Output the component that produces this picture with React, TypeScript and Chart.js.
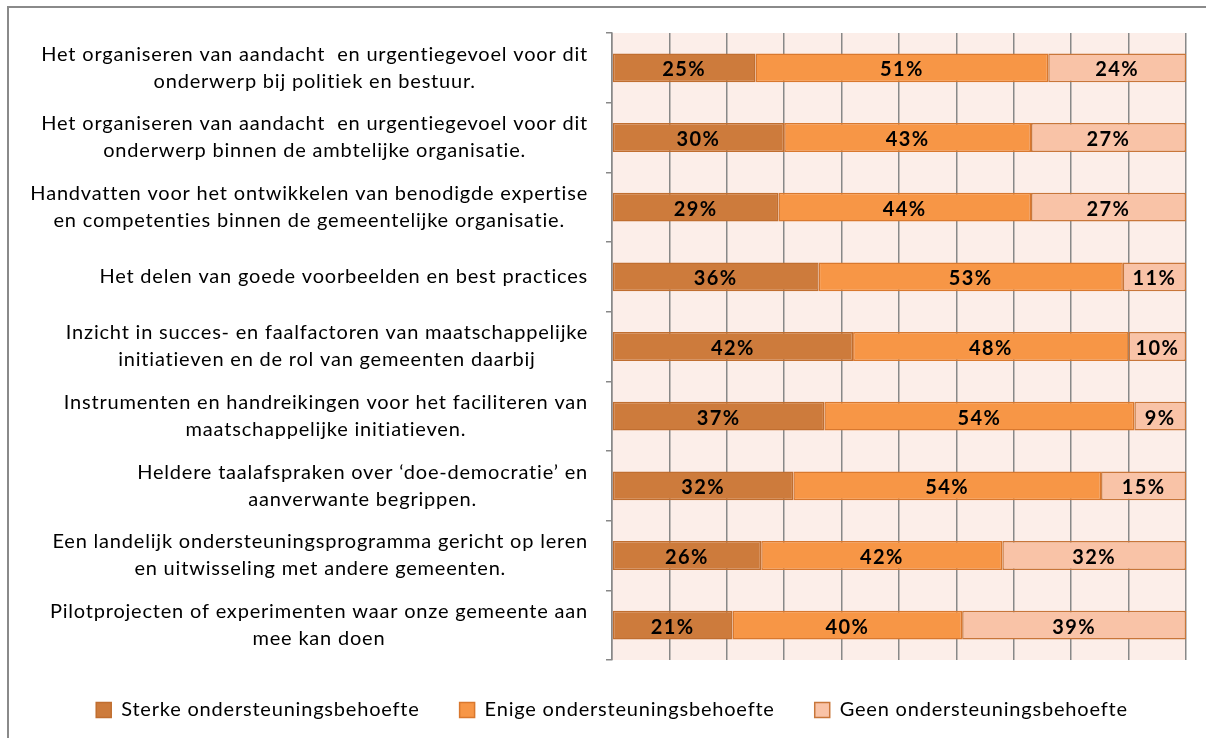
import React, { useEffect, useRef } from "react";
import { Chart, registerables } from "chart.js";

Chart.register(...registerables);

const categories: string[][] = [
  ["Het organiseren van aandacht  en urgentiegevoel voor dit", "onderwerp bij politiek en bestuur."],
  ["Het organiseren van aandacht  en urgentiegevoel voor dit", "onderwerp binnen de ambtelijke organisatie."],
  ["Handvatten voor het ontwikkelen van benodigde expertise", "en competenties binnen de gemeentelijke organisatie."],
  ["Het delen van goede voorbeelden en best practices"],
  ["Inzicht in succes- en faalfactoren van maatschappelijke", "initiatieven en de rol van gemeenten daarbij"],
  ["Instrumenten en handreikingen voor het faciliteren van", "maatschappelijke initiatieven."],
  ["Heldere taalafspraken over \u2018doe-democratie\u2019 en", "aanverwante begrippen."],
  ["Een landelijk ondersteuningsprogramma gericht op leren", "en uitwisseling met andere gemeenten."],
  ["Pilotprojecten of experimenten waar onze gemeente aan", "mee kan doen"],
];

const seriesNames = [
  "Sterke ondersteuningsbehoefte",
  "Enige ondersteuningsbehoefte",
  "Geen ondersteuningsbehoefte",
];

const sterke = [25, 30, 29, 36, 42, 37, 31.6, 26, 21];
const enige = [51, 43, 44, 53, 48, 54, 53.6, 42, 40];
const geen = [24, 27, 27, 11, 10, 9, 14.8, 32, 39];

const fills = ["#CD7B3C", "#F79646", "#F9C3A7"];
const strokes = ["#C06E30", "#D9782E", "#C8763A"];

const FONT = "Lato, 'Open Sans', sans-serif";
const SPACING = "0.8px";

const framePlugin = {
  id: "framePlugin",
  beforeUpdate(chart: any) {
    chart.ctx.letterSpacing = SPACING;
  },
  beforeDraw(chart: any) {
    const { ctx, chartArea } = chart;
    ctx.letterSpacing = SPACING;
    ctx.save();
    ctx.fillStyle = "#FFFFFF";
    ctx.fillRect(0, 0, chart.width, chart.height);
    ctx.strokeStyle = "#8A8A8A";
    ctx.lineWidth = 2;
    ctx.strokeRect(8, 7, 1400, 1000);
    ctx.fillStyle = "#FCEEE9";
    ctx.fillRect(chartArea.left, chartArea.top, chartArea.right - chartArea.left, chartArea.bottom - chartArea.top);
    ctx.restore();
  },
};

const labelPlugin = {
  id: "labelPlugin",
  afterDatasetsDraw(chart: any) {
    const { ctx } = chart;
    ctx.save();
    ctx.font = `bold 20px ${FONT}`;
    ctx.letterSpacing = "1.4px";
    ctx.fillStyle = "#000";
    ctx.textAlign = "center";
    ctx.textBaseline = "middle";
    chart.data.datasets.forEach((ds: any, di: number) => {
      const meta = chart.getDatasetMeta(di);
      meta.data.forEach((bar: any, i: number) => {
        const v = ds.data[i];
        const cx = (bar.x + bar.base) / 2;
        ctx.fillText(Math.round(v) + "%", cx, bar.y + 2);
      });
    });
    ctx.restore();
  },
  afterDraw(chart: any) {
    const { ctx, chartArea } = chart;
    const yScale = chart.scales.y;
    ctx.save();
    ctx.font = `20px ${FONT}`;
    ctx.letterSpacing = SPACING;
    ctx.fillStyle = "#000";
    ctx.textAlign = "center";
    ctx.textBaseline = "middle";
    const right = chartArea.left - 24;
    const lh = 27;
    categories.forEach((lines, i) => {
      const cy = yScale.getPixelForValue(i);
      const widest = Math.max(...lines.map((l) => ctx.measureText(l).width));
      const cx = right - widest / 2;
      const y0 = cy - ((lines.length - 1) * lh) / 2;
      lines.forEach((l, k) => ctx.fillText(l, cx, y0 + k * lh));
    });
    ctx.restore();
  },
};

export default function App() {
  const ref = useRef<HTMLCanvasElement | null>(null);
  useEffect(() => {
    if (!ref.current) return;
    const values = [sterke, enige, geen];
    const chart = new Chart(ref.current, {
      type: "bar",
      data: {
        labels: categories.map((c) => c.join(" ")),
        datasets: values.map((d, i) => ({
          label: seriesNames[i],
          data: d,
          backgroundColor: fills[i],
          borderColor: strokes[i],
          borderWidth: 1.5,
          borderSkipped: false,
          barPercentage: 0.415,
          categoryPercentage: 1,
        })),
      },
      options: {
        indexAxis: "y",
        responsive: false,
        animation: false,
        layout: { padding: { left: 38, right: 20, top: 33, bottom: 8 } },
        scales: {
          x: {
            type: "linear",
            stacked: true,
            min: 0,
            max: 100,
            ticks: { display: false, stepSize: 10 },
            grid: { color: "#888888", lineWidth: 1.5, drawTicks: false },
            border: { display: false },
          },
          y: {
            type: "category",
            stacked: true,
            ticks: { display: false },
            grid: { drawOnChartArea: false, drawTicks: true, tickLength: 6, color: "#888888", lineWidth: 1.5, offset: true },
            border: { display: true, color: "#888888", width: 1.5 },
            afterFit(scale: any) {
              scale.width = 574;
            },
          },
        },
        plugins: {
          legend: {
            position: "bottom",
            labels: {
              font: { family: FONT, size: 20 },
              color: "#000",
              boxWidth: 15,
              boxHeight: 15,
              padding: 40,
            },
          },
          tooltip: { enabled: false },
        },
      },
      plugins: [framePlugin, labelPlugin],
    });
    return () => chart.destroy();
  }, []);
  return (
    <div style={{ position: "absolute", left: 0, top: 0, width: 1206, height: 738 }}>
      <canvas ref={ref} width={1206} height={738} />
    </div>
  );
}
